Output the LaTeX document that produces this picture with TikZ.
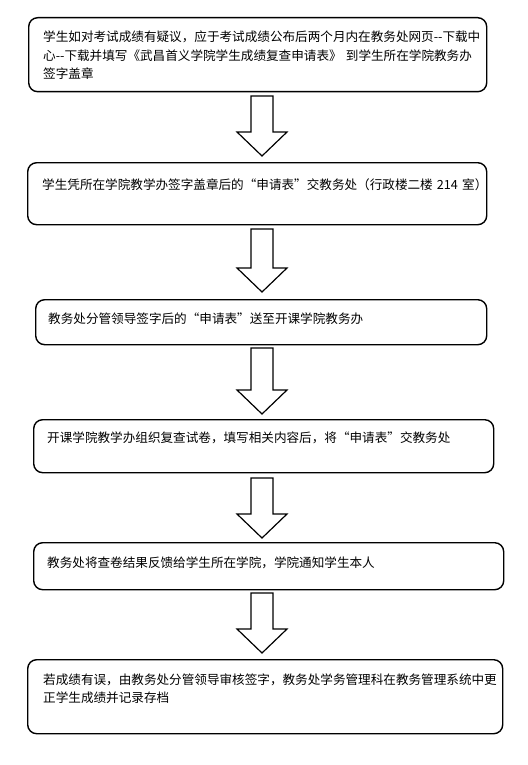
\documentclass[tikz,border=0pt]{standalone}
\usepackage{fontspec}
\setmainfont{Noto Sans CJK SC}
\usetikzlibrary{calc}
\tikzset{
  box/.style={draw, line width=1.4pt, rounded corners=9pt, anchor=north west, inner sep=0pt},
  txt/.style={anchor=base west, inner sep=0pt, text width=470pt, align=left,
    font=\fontsize{12.6}{18.4}\selectfont},
  blockarr/.style={draw, fill=white, line width=1.2pt, line join=miter}
}
\newcommand\myblockarrow[2]{%
  \path let \p1=(#1), \p2=(#2) in
    [blockarr] (\x1-11pt,\y1) -- (\x1+11pt,\y1) -- (\x1+11pt,\y2+24pt)
    -- (\x1+25pt,\y2+24pt) -- (\x2,\y2) -- (\x1-25pt,\y2+24pt)
    -- (\x1-11pt,\y2+24pt) -- cycle;}
\begin{document}
\begin{tikzpicture}[x=1pt,y=-1pt]
\useasboundingbox (0,0) rectangle (527,765);
% boxes
\node[box, minimum width=458pt, minimum height=74pt] (b1) at (28,17) {};
\node[box, minimum width=459pt, minimum height=62pt] (b2) at (27,162) {};
\node[box, minimum width=451pt, minimum height=45pt] (b3) at (35,299) {};
\node[box, minimum width=460pt, minimum height=53pt] (b4) at (33,419) {};
\node[box, minimum width=470pt, minimum height=47pt] (b5) at (33,542) {};
\node[box, minimum width=475pt, minimum height=74pt] (b6) at (27,659) {};
% texts
\node[txt] (t1) at (43,42) {学生如对考试成绩有疑议，应于考试成绩公布后两个月内在教务处网页-{}-下载中\\心-{}-下载并填写《武昌首义学院学生成绩复查申请表》 到学生所在学院教务办\\签字盖章};
\node[txt] (t2) at (42,189) {学生凭所在学院教学办签字盖章后的“申请表”交教务处（行政楼二楼 214 室）};
\node[txt] (t3) at (48,323) {教务处分管领导签字后的“申请表”送至开课学院教务办};
\node[txt] (t4) at (47,442) {开课学院教学办组织复查试卷，填写相关内容后，将“申请表”交教务处};
\node[txt] (t5) at (47,567) {教务处将查卷结果反馈给学生所在学院，学院通知学生本人};
\node[txt] (t6) at (43,684) {若成绩有误，由教务处分管领导审核签字，教务处学务管理科在教务管理系统中更\\正学生成绩并记录存档};
% arrows
\coordinate (a1t) at (262,96);  \coordinate (a1b) at (262,156);
\coordinate (a2t) at (262,229); \coordinate (a2b) at (262,292);
\coordinate (a3t) at (262,348); \coordinate (a3b) at (262,414);
\coordinate (a4t) at (262,478); \coordinate (a4b) at (262,538);
\coordinate (a5t) at (262,593); \coordinate (a5b) at (262,653);
\myblockarrow{a1t}{a1b}
\myblockarrow{a2t}{a2b}
\myblockarrow{a3t}{a3b}
\myblockarrow{a4t}{a4b}
\myblockarrow{a5t}{a5b}
\end{tikzpicture}
\end{document}
